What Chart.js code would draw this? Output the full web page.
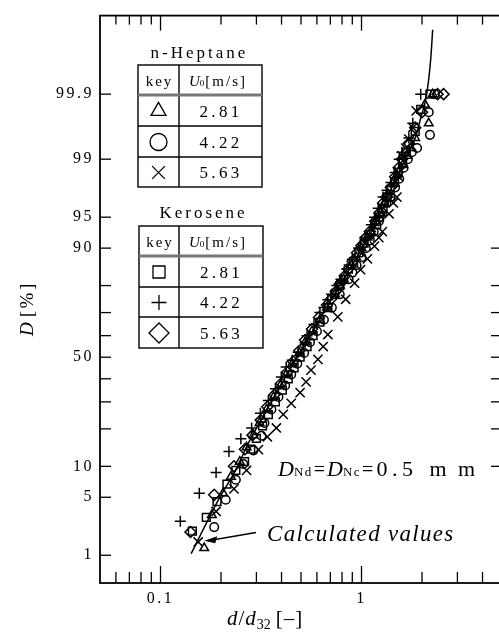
<!DOCTYPE html>
<html>
<head>
<meta charset="utf-8">
<script src="https://cdn.jsdelivr.net/npm/chart.js@4.4.1/dist/chart.umd.min.js"></script>
<style>
    html, body { margin: 0; padding: 0; background: #fff; overflow: hidden; }
    #grafico { position: absolute; left: 0; top: 0; }
</style>
</head>
<body>
<canvas id="grafico" width="510" height="636"></canvas>
<script>
// DATOS: X = d/d32 [-], D = PORCENTAJE ACUMULADO [%]
const heptano281X = [0.165, 0.180, 0.205, 0.224, 0.248, 0.268, 0.290, 0.311, 0.337, 0.365, 0.395, 0.422, 0.452, 0.490, 0.524, 0.567, 0.621, 0.673, 0.736, 0.78, 0.815, 0.893, 0.94, 1.00, 1.07, 1.11, 1.17, 1.24, 1.30, 1.36, 1.44, 1.50, 1.60, 1.69, 1.76, 1.85, 2.16, 2.07, 2.26]
const heptano281D = [1.25, 3.2, 5.5, 8, 11, 14.5, 18, 22, 27, 32, 37, 42, 47, 52, 57, 62, 67, 72, 77, 80, 82, 86, 88, 90, 92, 93, 94.5, 95.5, 96.5, 97.2, 98, 98.4, 98.8, 99.1, 99.3, 99.5, 99.7, 99.85, 99.9]

const heptano422X = [0.185, 0.211, 0.237, 0.258, 0.290, 0.318, 0.329, 0.356, 0.386, 0.417, 0.447, 0.479, 0.518, 0.554, 0.600, 0.650, 0.712, 0.779, 0.863, 0.90, 0.945, 1.0, 1.05, 1.10, 1.15, 1.22, 1.27, 1.33, 1.39, 1.47, 1.54, 1.62, 1.70, 1.78, 1.89, 2.19, 2.16, 2.31]
const heptano422D = [2.3, 4.7, 7.5, 10.5, 13.7, 17.8, 22, 27, 32, 37, 42, 47, 52, 57, 62, 67, 72, 77, 82, 84, 86, 88, 90, 91.5, 93, 94.5, 95.5, 96.5, 97, 97.7, 98.2, 98.7, 99, 99.2, 99.3, 99.55, 99.8, 99.9]

const heptano563X = [0.154, 0.189, 0.232, 0.268, 0.307, 0.340, 0.377, 0.408, 0.447, 0.495, 0.530, 0.561, 0.607, 0.645, 0.680, 0.762, 0.834, 0.924, 0.989, 1.07, 1.16, 1.22, 1.27, 1.37, 1.44, 1.50, 1.53, 1.59, 1.66, 1.72, 1.80, 1.87]
const heptano563D = [1.5, 3.5, 6.1, 9.2, 13.9, 17.5, 20.3, 25.1, 29.4, 33.9, 38.6, 44, 49, 55, 60.5, 68.2, 75.2, 80.8, 84.8, 87.6, 90.4, 92, 93.0, 95.4, 96.5, 97.0, 98.3, 99.1, 99.3, 99.48, 99.65, 99.81]

const kerosene281X = [0.144, 0.169, 0.191, 0.214, 0.237, 0.262, 0.281, 0.300, 0.322, 0.344, 0.373, 0.404, 0.432, 0.462, 0.495, 0.536, 0.574, 0.621, 0.680, 0.736, 0.78, 0.815, 0.86, 0.913, 0.97, 1.03, 1.10, 1.19, 1.23, 1.28, 1.34, 1.39, 1.46, 1.52, 1.60, 1.67, 1.85, 1.97, 2.19]
const kerosene281D = [2.05, 3.0, 4.5, 6.8, 9.2, 11, 14, 17, 21, 25, 30, 35, 40, 45, 50, 55, 60, 66, 72, 77, 80, 82, 85, 87, 89, 91, 92.5, 94, 95, 96, 97, 97.5, 98, 98.5, 98.9, 99.2, 99.6, 99.82, 99.9]

const kerosene422X = [0.1255, 0.156, 0.189, 0.219, 0.251, 0.284, 0.314, 0.344, 0.373, 0.399, 0.422, 0.452, 0.484, 0.524, 0.536, 0.580, 0.621, 0.65, 0.680, 0.71, 0.753, 0.79, 0.844, 0.90, 0.967, 1.04, 1.12, 1.16, 1.21, 1.28, 1.34, 1.40, 1.47, 1.54, 1.59, 1.72, 1.80, 1.97]
const kerosene422D = [2.7, 5.5, 8.8, 13.4, 16.9, 20.3, 25.5, 30.6, 35.6, 40.8, 45.4, 48.6, 52.3, 56.8, 60, 65, 70, 72, 75, 77, 80, 82, 85, 87.5, 90, 92, 94, 95, 96, 97, 97.5, 98, 98.5, 99, 99.2, 99.5, 99.7, 99.9]

const kerosene563X = [0.141, 0.185, 0.232, 0.263, 0.287, 0.315, 0.340, 0.369, 0.399, 0.427, 0.457, 0.490, 0.524, 0.567, 0.614, 0.673, 0.71, 0.745, 0.78, 0.825, 0.86, 0.903, 0.95, 1.00, 1.05, 1.10, 1.17, 1.23, 1.28, 1.33, 1.40, 1.47, 1.53, 1.59, 1.72, 1.85, 2.00, 2.39, 2.56]
const kerosene563D = [2.0, 5.3, 10, 14, 18, 23, 28, 33, 38, 43, 48, 53, 58, 63, 68, 73, 75.5, 78, 80.5, 83, 85, 87, 89, 90.5, 92, 93, 94.5, 95.5, 96.5, 97, 97.7, 98.3, 98.7, 99, 99.4, 99.65, 99.8, 99.9, 99.9]

// CURVA "CALCULATED VALUES"
const calculadoX = [0.142, 0.192, 0.239, 0.274, 0.352, 0.457, 0.561, 0.680, 0.893, 1.16, 1.28, 1.50, 1.67, 1.85, 1.97, 2.11, 2.21, 2.26]
const calculadoD = [1.05, 4.5, 9.6, 15.7, 29.4, 46.8, 60.5, 73.0, 85.9, 93.8, 96.1, 98.3, 99.05, 99.50, 99.75, 99.90, 99.977, 99.994]

// EJES
const xMin = 0.05
const xMax = 5
const xMarcasMayores = [0.1, 1]
const xEtiquetas = ["0.1", "1"]
const xMarcasMenores = [0.06, 0.07, 0.08, 0.09, 0.2, 0.3, 0.4, 0.5, 0.6, 0.7, 0.8, 0.9, 2, 3, 4]
const yMinPct = 0.4
const yMaxPct = 99.997
const yMarcas = [1, 5, 10, 20, 30, 40, 50, 60, 70, 80, 90, 95, 99, 99.9]
const yEtiquetas = ["1", "5", "10", "", "", "", "50", "", "", "", "90", "95", "99", "99.9"]
const yMarcasDerecha = [10, 20, 30, 40, 50, 60, 70, 80, 90]

// LEYENDAS
const heptanoValores = ["2.81", "4.22", "5.63"]
const keroseneValores = ["2.81", "4.22", "5.63"]

const serif = "\"Liberation Serif\", \"Times New Roman\", serif"

// INVERSA DE LA NORMAL (ESCALA DE PROBABILIDAD)
function probit(p) {
    const a = [-39.69683028665376, 220.9460984245205, -275.9285104469687, 138.3577518672690, -30.66479806614716, 2.506628277459239]
    const b = [-54.47609879822406, 161.5858368580409, -155.6989798598866, 66.80131188771972, -13.28068155288572]
    const c = [-0.007784894002430293, -0.3223964580411365, -2.400758277161838, -2.549732539343734, 4.374664141464968, 2.938163982698783]
    const d = [0.007784695709041462, 0.3224671290700398, 2.445134137142996, 3.754408661907416]
    const pl = 0.02425
    let q, r
    if (p < pl) {
        q = Math.sqrt(-2 * Math.log(p))
        return (((((c[0] * q + c[1]) * q + c[2]) * q + c[3]) * q + c[4]) * q + c[5]) / ((((d[0] * q + d[1]) * q + d[2]) * q + d[3]) * q + 1)
    }
    if (p > 1 - pl) {
        q = Math.sqrt(-2 * Math.log(1 - p))
        return -(((((c[0] * q + c[1]) * q + c[2]) * q + c[3]) * q + c[4]) * q + c[5]) / ((((d[0] * q + d[1]) * q + d[2]) * q + d[3]) * q + 1)
    }
    q = p - 0.5
    r = q * q
    return (((((a[0] * r + a[1]) * r + a[2]) * r + a[3]) * r + a[4]) * r + a[5]) * q / (((((b[0] * r + b[1]) * r + b[2]) * r + b[3]) * r + b[4]) * r + 1)
}
const aZ = (pct) => probit(pct / 100)

function serie(xs, ds) {
    return xs.map((x, i) => ({ x: x, y: aZ(ds[i]) }))
}

function marcador(label, xs, ds, estilo, radio) {
    return {
        label: label,
        data: serie(xs, ds),
        pointStyle: estilo,
        pointRadius: radio,
        pointBorderWidth: 1.5,
        borderColor: "#000",
        backgroundColor: "rgba(0,0,0,0)",
        showLine: false
    }
}

function linea(ctx, x1, y1, x2, y2) {
    ctx.beginPath()
    ctx.moveTo(x1, y1)
    ctx.lineTo(x2, y2)
    ctx.stroke()
}

// DIBUJA TROZOS DE TEXTO SEGUIDOS (CURSIVA, SUBINDICES)
function texto(ctx, partes, x, yBase) {
    partes.forEach((p) => {
        ctx.font = p.f
        ctx.letterSpacing = (p.ls || 0) + "px"
        ctx.fillText(p.t, x, yBase + (p.dy || 0))
        x += ctx.measureText(p.t).width + (p.gap || 0)
    })
    return x
}

function simbolo(ctx, estilo, radio, x, y) {
    ctx.save()
    ctx.strokeStyle = "#000"
    ctx.fillStyle = "rgba(0,0,0,0)"
    ctx.lineWidth = 1.3
    Chart.helpers.drawPoint(ctx, { pointStyle: estilo, radius: radio, borderWidth: 1.3, rotation: 0 }, x, y)
    ctx.restore()
}

function tablaClave(ctx, caja, titulo, estilos, valores) {
    const filas = caja.filas
    const yFin = filas[filas.length - 1]
    ctx.save()
    ctx.fillStyle = "#000"
    ctx.textAlign = "center"
    ctx.textBaseline = "alphabetic"
    ctx.font = "17px " + serif
    ctx.letterSpacing = "3px"
    ctx.fillText(titulo, caja.xt + 1.5, caja.yt)

    ctx.strokeStyle = "#000"
    ctx.lineWidth = 1.4
    ctx.strokeRect(caja.x0, caja.y0, caja.x1 - caja.x0, yFin - caja.y0)
    linea(ctx, caja.xm, caja.y0, caja.xm, yFin)
    filas.slice(0, -1).forEach((f) => linea(ctx, caja.x0, f, caja.x1, f))
    ctx.strokeStyle = "#777"
    ctx.lineWidth = 3
    linea(ctx, caja.x0, caja.yh, caja.x1, caja.yh)

    // CABECERA
    ctx.font = "15px " + serif
    ctx.letterSpacing = "2px"
    ctx.fillText("key", (caja.x0 + caja.xm) / 2 + 1, caja.yh - 9)
    ctx.textAlign = "left"
    texto(ctx, [
        { t: "U", f: "italic 15px " + serif, ls: 0 },
        { t: "0", f: "9px " + serif, ls: 0, gap: 1 },
        { t: "[m/s]", f: "15px " + serif, ls: 2 }
    ], caja.xm + 10, caja.yh - 9)

    // FILAS
    let arriba = caja.yh
    filas.forEach((f, i) => {
        const yc = (arriba + f) / 2
        simbolo(ctx, estilos[i][0], estilos[i][1], (caja.x0 + caja.xm) / 2, yc + 0.5)
        ctx.textAlign = "center"
        ctx.font = "17px " + serif
        ctx.letterSpacing = "3.3px"
        ctx.fillText(valores[i], (caja.xm + caja.x1) / 2 + 0.5, yc + 6)
        arriba = f
    })
    ctx.restore()
}

const decoracion = {
    id: "decoracion",
    beforeDraw(chart) {
        chart.ctx.letterSpacing = "2.5px" //ESPACIADO DE LAS ETIQUETAS
    },
    beforeDatasetsDraw(chart) {
        chart.ctx.letterSpacing = "0px"
    },
    afterDraw(chart) {
        const ctx = chart.ctx
        const a = chart.chartArea
        const x = chart.scales.x
        const y = chart.scales.y
        ctx.save()
        ctx.strokeStyle = "#000"
        ctx.lineWidth = 1.8
        ctx.strokeRect(a.left, a.top, a.right - a.left, a.bottom - a.top)

        // MARCAS HACIA DENTRO
        ctx.lineWidth = 1.3
        xMarcasMenores.forEach((v) => {
            const px = x.getPixelForValue(v)
            linea(ctx, px, a.bottom, px, a.bottom - 11)
            linea(ctx, px, a.top, px, a.top + 9)
        })
        xMarcasMayores.forEach((v) => {
            const px = x.getPixelForValue(v)
            linea(ctx, px, a.bottom, px, a.bottom - 17)
            linea(ctx, px, a.top, px, a.top + 15)
        })
        yMarcas.forEach((p) => {
            const py = y.getPixelForValue(aZ(p))
            linea(ctx, a.left, py, a.left + 11, py)
        })
        yMarcasDerecha.forEach((p) => {
            const py = y.getPixelForValue(aZ(p))
            linea(ctx, a.right, py, a.right - 11, py)
        })

        // TITULOS DE EJES
        ctx.fillStyle = "#000"
        ctx.textAlign = "left"
        ctx.textBaseline = "alphabetic"
        texto(ctx, [
            { t: "d", f: "italic 21px " + serif, ls: 1 },
            { t: "/", f: "21px " + serif, ls: 1 },
            { t: "d", f: "italic 21px " + serif, ls: 1 },
            { t: "32", f: "14px " + serif, ls: 0, dy: 4, gap: 5 },
            { t: "[\u2013]", f: "21px " + serif, ls: 1 }
        ], 227, 625)

        ctx.save()
        ctx.translate(33, 336)
        ctx.rotate(-Math.PI / 2)
        texto(ctx, [
            { t: "D", f: "italic 19px " + serif, ls: 0, gap: 5 },
            { t: "[%]", f: "19px " + serif, ls: 2.5 }
        ], 0, 0)
        ctx.restore()

        // LEYENDAS
        tablaClave(ctx, { xt: 198, yt: 58, x0: 138, x1: 262, xm: 179, y0: 65, yh: 95, filas: [126, 157, 187] },
            "n-Heptane", [["triangle", 8.6], ["circle", 8.5], ["crossRot", 9]], heptanoValores)
        tablaClave(ctx, { xt: 202, yt: 218, x0: 139, x1: 263, xm: 179, y0: 226, yh: 256, filas: [287, 317, 348] },
            "Kerosene", [["rect", 8.5], ["cross", 7.5], ["rectRot", 10]], keroseneValores)

        // ANOTACIONES
        ctx.fillStyle = "#000"
        ctx.textAlign = "left"
        texto(ctx, [
            { t: "D", f: "italic 22px " + serif, ls: 0 },
            { t: "Nd", f: "13px " + serif, ls: 1.5, gap: 1 },
            { t: "=", f: "20px " + serif, ls: 0, gap: 2 },
            { t: "D", f: "italic 22px " + serif, ls: 0 },
            { t: "Nc", f: "13px " + serif, ls: 1.5, gap: 1 },
            { t: "=", f: "20px " + serif, ls: 0, gap: 3 },
            { t: "0.5", f: "22px " + serif, ls: 4.5, gap: 12 },
            { t: "m m", f: "22px " + serif, ls: 3 }
        ], 278, 476)

        texto(ctx, [
            { t: "Calculated values", f: "italic 23px " + serif, ls: 1.3 }
        ], 267, 541)

        // FLECHA HACIA LA CURVA
        const xFlecha = x.getPixelForValue(0.165)
        const yFlecha = y.getPixelForValue(aZ(1.55))
        ctx.lineWidth = 1.4
        linea(ctx, 256, 532.5, xFlecha + 8, yFlecha - 0.8)
        ctx.beginPath()
        ctx.moveTo(xFlecha, yFlecha)
        ctx.lineTo(xFlecha + 13, yFlecha - 4.5)
        ctx.lineTo(xFlecha + 11, yFlecha + 2.5)
        ctx.closePath()
        ctx.fill()
        ctx.restore()
    }
}

const miGraf = document.querySelector("#grafico")
const config = {
    type: "scatter",
    data: {
        datasets: [
            marcador("n-Heptane 2.81", heptano281X, heptano281D, "triangle", 5),
            marcador("n-Heptane 4.22", heptano422X, heptano422D, "circle", 4.3),
            marcador("n-Heptane 5.63", heptano563X, heptano563D, "crossRot", 6.5),
            marcador("Kerosene 2.81", kerosene281X, kerosene281D, "rect", 5.5),
            marcador("Kerosene 4.22", kerosene422X, kerosene422D, "cross", 5.5),
            marcador("Kerosene 5.63", kerosene563X, kerosene563D, "rectRot", 5.5),
            {
                label: "Calculated values",
                type: "line",
                data: serie(calculadoX, calculadoD),
                borderColor: "#000",
                borderWidth: 1.5,
                pointRadius: 0,
                fill: false,
                cubicInterpolationMode: "monotone"
            }
        ]
    },
    options: {
        responsive: false,
        animation: false,
        devicePixelRatio: 1,
        layout: { padding: { left: 0, right: 4, top: 6, bottom: 0 } },
        plugins: {
            legend: { display: false },
            tooltip: { enabled: false }
        },
        scales: {
            x: {
                type: "logarithmic",
                min: xMin,
                max: xMax,
                afterBuildTicks: (s) => { s.ticks = xMarcasMayores.map((v) => ({ value: v })) },
                afterFit: (s) => { s.height = 53 },
                ticks: {
                    callback: (v, i) => xEtiquetas[i],
                    font: { family: serif, size: 16 },
                    color: "#000",
                    padding: 6,
                    maxRotation: 0,
                    autoSkip: false
                },
                grid: { display: false, drawTicks: false },
                border: { display: false }
            },
            y: {
                type: "linear",
                min: aZ(yMinPct),
                max: aZ(yMaxPct),
                afterBuildTicks: (s) => { s.ticks = yMarcas.map((p) => ({ value: aZ(p) })) },
                afterFit: (s) => { s.width = 100 },
                ticks: {
                    callback: (v, i) => yEtiquetas[i],
                    font: { family: serif, size: 16 },
                    color: "#000",
                    padding: 6,
                    autoSkip: false
                },
                grid: { display: false, drawTicks: false },
                border: { display: false }
            }
        }
    },
    plugins: [decoracion]
}
const myChart = new Chart(miGraf, config)
</script>
</body>
</html>
